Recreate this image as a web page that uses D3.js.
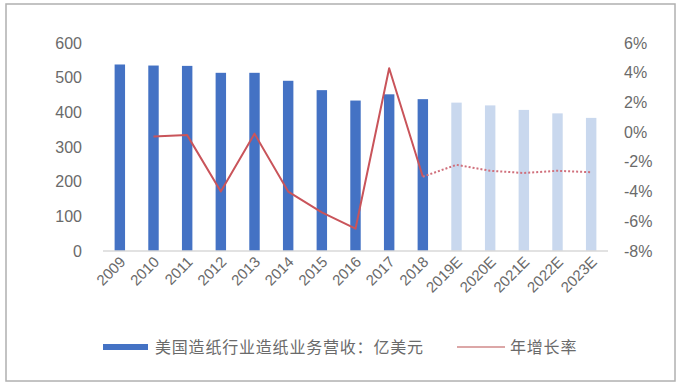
<!DOCTYPE html>
<html>
<head>
	<meta charset="utf-8">
	<title>US paper revenue</title>
	<style type="text/css">
		body{ margin:0; background:#fff; }
		text{ font-family:"Liberation Sans", Arial, sans-serif; fill:#6a6a6a; }
		.legend text{ font-family:"Noto Sans CJK SC", sans-serif; letter-spacing:0.8px; }
	</style>
</head>
<body>
	<svg width=683 height=389 class="chart"></svg>
	<script type="text/javascript" src="https://cdn.jsdelivr.net/npm/d3@7/dist/d3.min.js"></script>
	<script type="text/javascript">

		years = ['2009','2010','2011','2012','2013','2014','2015','2016','2017','2018','2019E','2020E','2021E','2022E','2023E']
		revenue = [538, 535, 534, 514, 514, 491, 464, 434, 452, 438, 428, 420, 407, 397, 384]
		growth = [null, -0.3, -0.2, -4.0, -0.1, -4.0, -5.4, -6.5, 4.3, -3.0, -2.2, -2.6, -2.75, -2.6, -2.7]
		leftTicks = [0, 100, 200, 300, 400, 500, 600]
		rightTicks = [-8, -6, -4, -2, 0, 2, 4, 6]
		actualCount = 10

		svg = d3.select('.chart')

		// outer frame
		svg.append('rect')
			.attr('x', 6).attr('y', 4)
			.attr('width', 669).attr('height', 377)
			.attr('fill', 'none')
			.attr('stroke', '#b0b0b0')
			.attr('stroke-width', 1.5)

		x = d3.scaleBand().domain(years).range([103, 608]).paddingInner(0.69).paddingOuter(0.345)
		yL = d3.scaleLinear().domain([0, 600]).range([251, 43])
		yR = d3.scaleLinear().domain([-8, 6]).range([251, 43])

		// bars
		svg.append('g')
			.selectAll('rect')
			.data(years)
			.enter()
			.append('rect')
			.attr('x', function(d){ return x(d) })
			.attr('y', function(d, i){ return yL(revenue[i]) })
			.attr('width', x.bandwidth())
			.attr('height', function(d, i){ return yL(0) - yL(revenue[i]) })
			.attr('fill', function(d, i){ return i < actualCount ? '#4472c4' : '#c9d8ee' })

		// baseline
		svg.append('line')
			.attr('x1', 103).attr('x2', 608)
			.attr('y1', yL(0)).attr('y2', yL(0))
			.attr('stroke', '#d9d9d9').attr('stroke-width', 1.5)

		// left axis labels
		leftAxis = d3.axisLeft(yL).tickValues(leftTicks).tickSize(0).tickPadding(0)
		gl = svg.append('g').attr('transform', 'translate(82,0)').call(leftAxis)
		gl.select('.domain').remove()
		gl.selectAll('text').attr('font-size', 16).attr('font-family', null)

		// right axis labels
		rightAxis = d3.axisRight(yR).tickValues(rightTicks).tickSize(0).tickPadding(0)
			.tickFormat(function(d){ return d + '%' })
		gr = svg.append('g').attr('transform', 'translate(624,0)').call(rightAxis)
		gr.select('.domain').remove()
		gr.selectAll('text').attr('font-size', 16).attr('font-family', null)

		// x axis labels
		bottomAxis = d3.axisBottom(x).tickSize(0).tickPadding(0)
		gb = svg.append('g').attr('transform', 'translate(0,262)').call(bottomAxis)
		gb.select('.domain').remove()
		gb.selectAll('text')
			.attr('font-size', 15)
			.attr('font-family', null)
			.attr('text-anchor', 'end')
			.attr('dy', '0.35em')
			.attr('x', 4)
			.attr('y', 0)
			.attr('transform', 'rotate(-45)')

		// growth line
		cx = function(i){ return x(years[i]) + x.bandwidth() / 2 }
		line = d3.line()
			.defined(function(d){ return d != null })
			.x(function(d, i){ return cx(i) })
			.y(function(d){ return yR(d) })

		solid = growth.map(function(d, i){ return i < actualCount ? d : null })
		dotted = growth.map(function(d, i){ return i >= actualCount - 1 ? d : null })

		svg.append('path')
			.attr('d', line(solid))
			.attr('fill', 'none')
			.attr('stroke', '#c9545a')
			.attr('stroke-width', 2)
			.attr('stroke-linejoin', 'round')

		svg.append('path')
			.attr('d', line(dotted))
			.attr('fill', 'none')
			.attr('stroke', '#d0707c')
			.attr('stroke-width', 2)
			.attr('stroke-dasharray', '2,2')

		// legend
		lg = svg.append('g').attr('class', 'legend')
		lg.append('rect')
			.attr('x', 103).attr('y', 344)
			.attr('width', 45).attr('height', 6)
			.attr('fill', '#4472c4')
		lg.append('text')
			.attr('x', 155).attr('y', 347)
			.attr('dy', '0.35em')
			.attr('font-size', 16)
			.text('美国造纸行业造纸业务营收：亿美元')
		lg.append('line')
			.attr('x1', 457).attr('x2', 505)
			.attr('y1', 347).attr('y2', 347)
			.attr('stroke', '#d08a8a').attr('stroke-width', 1.5)
		lg.append('text')
			.attr('x', 510).attr('y', 347)
			.attr('dy', '0.35em')
			.attr('font-size', 16)
			.text('年增长率')

	</script>
</body>
</html>
